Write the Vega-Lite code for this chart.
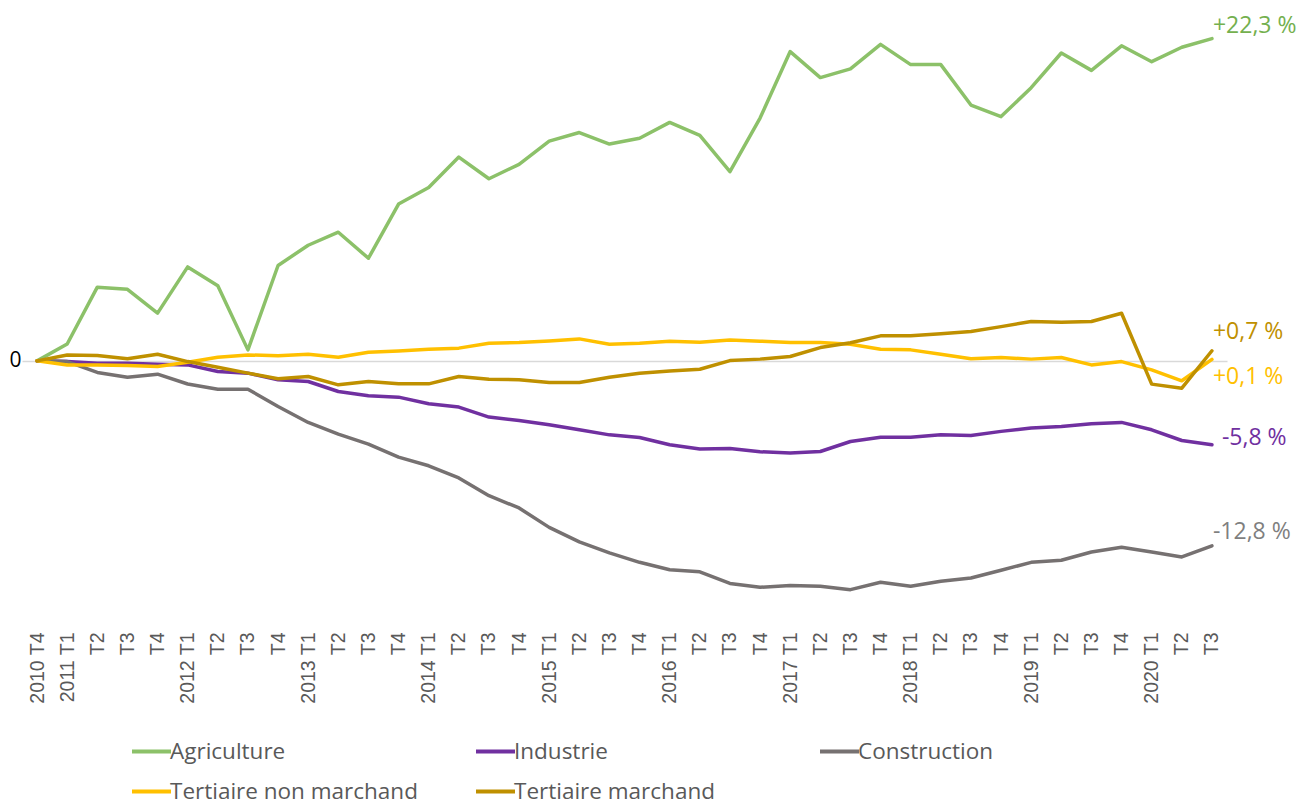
{
  "$schema": "https://vega.github.io/schema/vega-lite/v6.json",
  "width": 1205,
  "height": 607,
  "autosize": {"type": "none"},
  "padding": {"left": 22, "top": 14, "right": 73, "bottom": 181},
  "background": "white",
  "config": {"view": {"stroke": null}},
  "datasets": {
    "labels": [
      {"q": "2020 T3", "s": "Agriculture", "v": 22.3, "label": "+22,3 %"},
      {"q": "2020 T3", "s": "Industrie", "v": -5.8, "label": "-5,8 %"},
      {"q": "2020 T3", "s": "Construction", "v": -12.8, "label": "-12,8 %"},
      {"q": "2020 T3", "s": "Tertiaire non marchand", "v": 0.1, "label": "+0,1 %"},
      {"q": "2020 T3", "s": "Tertiaire marchand", "v": 0.7, "label": "+0,7 %"}
    ],
    "series": [
      {"q":"2010 T4","s":"Agriculture","v":0},{"q":"2011 T1","s":"Agriculture","v":1.17},{"q":"2011 T2","s":"Agriculture","v":5.1},{"q":"2011 T3","s":"Agriculture","v":4.95},{"q":"2011 T4","s":"Agriculture","v":3.3},
      {"q":"2012 T1","s":"Agriculture","v":6.5},{"q":"2012 T2","s":"Agriculture","v":5.2},{"q":"2012 T3","s":"Agriculture","v":0.76},{"q":"2012 T4","s":"Agriculture","v":6.6},
      {"q":"2013 T1","s":"Agriculture","v":8.0},{"q":"2013 T2","s":"Agriculture","v":8.9},{"q":"2013 T3","s":"Agriculture","v":7.1},{"q":"2013 T4","s":"Agriculture","v":10.85},
      {"q":"2014 T1","s":"Agriculture","v":12.0},{"q":"2014 T2","s":"Agriculture","v":14.1},{"q":"2014 T3","s":"Agriculture","v":12.6},{"q":"2014 T4","s":"Agriculture","v":13.6},
      {"q":"2015 T1","s":"Agriculture","v":15.2},{"q":"2015 T2","s":"Agriculture","v":15.8},{"q":"2015 T3","s":"Agriculture","v":15.0},{"q":"2015 T4","s":"Agriculture","v":15.4},
      {"q":"2016 T1","s":"Agriculture","v":16.5},{"q":"2016 T2","s":"Agriculture","v":15.6},{"q":"2016 T3","s":"Agriculture","v":13.1},{"q":"2016 T4","s":"Agriculture","v":16.8},
      {"q":"2017 T1","s":"Agriculture","v":21.4},{"q":"2017 T2","s":"Agriculture","v":19.6},{"q":"2017 T3","s":"Agriculture","v":20.2},{"q":"2017 T4","s":"Agriculture","v":21.9},
      {"q":"2018 T1","s":"Agriculture","v":20.5},{"q":"2018 T2","s":"Agriculture","v":20.5},{"q":"2018 T3","s":"Agriculture","v":17.7},{"q":"2018 T4","s":"Agriculture","v":16.9},
      {"q":"2019 T1","s":"Agriculture","v":18.9},{"q":"2019 T2","s":"Agriculture","v":21.3},{"q":"2019 T3","s":"Agriculture","v":20.1},{"q":"2019 T4","s":"Agriculture","v":21.8},
      {"q":"2020 T1","s":"Agriculture","v":20.7},{"q":"2020 T2","s":"Agriculture","v":21.7},{"q":"2020 T3","s":"Agriculture","v":22.3},

      {"q":"2010 T4","s":"Industrie","v":0},{"q":"2011 T1","s":"Industrie","v":-0.05},{"q":"2011 T2","s":"Industrie","v":-0.16},{"q":"2011 T3","s":"Industrie","v":-0.16},{"q":"2011 T4","s":"Industrie","v":-0.23},
      {"q":"2012 T1","s":"Industrie","v":-0.28},{"q":"2012 T2","s":"Industrie","v":-0.74},{"q":"2012 T3","s":"Industrie","v":-0.85},{"q":"2012 T4","s":"Industrie","v":-1.31},
      {"q":"2013 T1","s":"Industrie","v":-1.43},{"q":"2013 T2","s":"Industrie","v":-2.12},{"q":"2013 T3","s":"Industrie","v":-2.42},{"q":"2013 T4","s":"Industrie","v":-2.51},
      {"q":"2014 T1","s":"Industrie","v":-2.97},{"q":"2014 T2","s":"Industrie","v":-3.2},{"q":"2014 T3","s":"Industrie","v":-3.89},{"q":"2014 T4","s":"Industrie","v":-4.12},
      {"q":"2015 T1","s":"Industrie","v":-4.42},{"q":"2015 T2","s":"Industrie","v":-4.77},{"q":"2015 T3","s":"Industrie","v":-5.12},{"q":"2015 T4","s":"Industrie","v":-5.3},
      {"q":"2016 T1","s":"Industrie","v":-5.8},{"q":"2016 T2","s":"Industrie","v":-6.1},{"q":"2016 T3","s":"Industrie","v":-6.06},{"q":"2016 T4","s":"Industrie","v":-6.29},
      {"q":"2017 T1","s":"Industrie","v":-6.38},{"q":"2017 T2","s":"Industrie","v":-6.27},{"q":"2017 T3","s":"Industrie","v":-5.58},{"q":"2017 T4","s":"Industrie","v":-5.28},
      {"q":"2018 T1","s":"Industrie","v":-5.28},{"q":"2018 T2","s":"Industrie","v":-5.12},{"q":"2018 T3","s":"Industrie","v":-5.16},{"q":"2018 T4","s":"Industrie","v":-4.88},
      {"q":"2019 T1","s":"Industrie","v":-4.65},{"q":"2019 T2","s":"Industrie","v":-4.54},{"q":"2019 T3","s":"Industrie","v":-4.35},{"q":"2019 T4","s":"Industrie","v":-4.26},
      {"q":"2020 T1","s":"Industrie","v":-4.77},{"q":"2020 T2","s":"Industrie","v":-5.51},{"q":"2020 T3","s":"Industrie","v":-5.8},

      {"q":"2010 T4","s":"Construction","v":0},{"q":"2011 T1","s":"Construction","v":-0.05},{"q":"2011 T2","s":"Construction","v":-0.8},{"q":"2011 T3","s":"Construction","v":-1.13},{"q":"2011 T4","s":"Construction","v":-0.92},
      {"q":"2012 T1","s":"Construction","v":-1.6},{"q":"2012 T2","s":"Construction","v":-1.96},{"q":"2012 T3","s":"Construction","v":-1.96},{"q":"2012 T4","s":"Construction","v":-3.16},
      {"q":"2013 T1","s":"Construction","v":-4.26},{"q":"2013 T2","s":"Construction","v":-5.07},{"q":"2013 T3","s":"Construction","v":-5.76},{"q":"2013 T4","s":"Construction","v":-6.66},
      {"q":"2014 T1","s":"Construction","v":-7.26},{"q":"2014 T2","s":"Construction","v":-8.1},{"q":"2014 T3","s":"Construction","v":-9.33},{"q":"2014 T4","s":"Construction","v":-10.18},
      {"q":"2015 T1","s":"Construction","v":-11.52},{"q":"2015 T2","s":"Construction","v":-12.53},{"q":"2015 T3","s":"Construction","v":-13.29},{"q":"2015 T4","s":"Construction","v":-13.94},
      {"q":"2016 T1","s":"Construction","v":-14.45},{"q":"2016 T2","s":"Construction","v":-14.6},{"q":"2016 T3","s":"Construction","v":-15.4},{"q":"2016 T4","s":"Construction","v":-15.67},
      {"q":"2017 T1","s":"Construction","v":-15.55},{"q":"2017 T2","s":"Construction","v":-15.6},{"q":"2017 T3","s":"Construction","v":-15.83},{"q":"2017 T4","s":"Construction","v":-15.32},
      {"q":"2018 T1","s":"Construction","v":-15.6},{"q":"2018 T2","s":"Construction","v":-15.25},{"q":"2018 T3","s":"Construction","v":-15.02},{"q":"2018 T4","s":"Construction","v":-14.49},
      {"q":"2019 T1","s":"Construction","v":-13.94},{"q":"2019 T2","s":"Construction","v":-13.8},{"q":"2019 T3","s":"Construction","v":-13.23},{"q":"2019 T4","s":"Construction","v":-12.9},
      {"q":"2020 T1","s":"Construction","v":-13.23},{"q":"2020 T2","s":"Construction","v":-13.57},{"q":"2020 T3","s":"Construction","v":-12.8},

      {"q":"2010 T4","s":"Tertiaire non marchand","v":0},{"q":"2011 T1","s":"Tertiaire non marchand","v":-0.28},{"q":"2011 T2","s":"Tertiaire non marchand","v":-0.28},{"q":"2011 T3","s":"Tertiaire non marchand","v":-0.32},{"q":"2011 T4","s":"Tertiaire non marchand","v":-0.39},
      {"q":"2012 T1","s":"Tertiaire non marchand","v":-0.09},{"q":"2012 T2","s":"Tertiaire non marchand","v":0.25},{"q":"2012 T3","s":"Tertiaire non marchand","v":0.41},{"q":"2012 T4","s":"Tertiaire non marchand","v":0.35},
      {"q":"2013 T1","s":"Tertiaire non marchand","v":0.46},{"q":"2013 T2","s":"Tertiaire non marchand","v":0.25},{"q":"2013 T3","s":"Tertiaire non marchand","v":0.6},{"q":"2013 T4","s":"Tertiaire non marchand","v":0.69},
      {"q":"2014 T1","s":"Tertiaire non marchand","v":0.8},{"q":"2014 T2","s":"Tertiaire non marchand","v":0.88},{"q":"2014 T3","s":"Tertiaire non marchand","v":1.22},{"q":"2014 T4","s":"Tertiaire non marchand","v":1.27},
      {"q":"2015 T1","s":"Tertiaire non marchand","v":1.38},{"q":"2015 T2","s":"Tertiaire non marchand","v":1.52},{"q":"2015 T3","s":"Tertiaire non marchand","v":1.15},{"q":"2015 T4","s":"Tertiaire non marchand","v":1.22},
      {"q":"2016 T1","s":"Tertiaire non marchand","v":1.36},{"q":"2016 T2","s":"Tertiaire non marchand","v":1.29},{"q":"2016 T3","s":"Tertiaire non marchand","v":1.45},{"q":"2016 T4","s":"Tertiaire non marchand","v":1.36},
      {"q":"2017 T1","s":"Tertiaire non marchand","v":1.27},{"q":"2017 T2","s":"Tertiaire non marchand","v":1.27},{"q":"2017 T3","s":"Tertiaire non marchand","v":1.15},{"q":"2017 T4","s":"Tertiaire non marchand","v":0.81},
      {"q":"2018 T1","s":"Tertiaire non marchand","v":0.76},{"q":"2018 T2","s":"Tertiaire non marchand","v":0.46},{"q":"2018 T3","s":"Tertiaire non marchand","v":0.14},{"q":"2018 T4","s":"Tertiaire non marchand","v":0.23},
      {"q":"2019 T1","s":"Tertiaire non marchand","v":0.12},{"q":"2019 T2","s":"Tertiaire non marchand","v":0.23},{"q":"2019 T3","s":"Tertiaire non marchand","v":-0.28},{"q":"2019 T4","s":"Tertiaire non marchand","v":-0.05},
      {"q":"2020 T1","s":"Tertiaire non marchand","v":-0.62},{"q":"2020 T2","s":"Tertiaire non marchand","v":-1.38},{"q":"2020 T3","s":"Tertiaire non marchand","v":0.1},

      {"q":"2010 T4","s":"Tertiaire marchand","v":0},{"q":"2011 T1","s":"Tertiaire marchand","v":0.41},{"q":"2011 T2","s":"Tertiaire marchand","v":0.37},{"q":"2011 T3","s":"Tertiaire marchand","v":0.14},{"q":"2011 T4","s":"Tertiaire marchand","v":0.46},
      {"q":"2012 T1","s":"Tertiaire marchand","v":-0.05},{"q":"2012 T2","s":"Tertiaire marchand","v":-0.44},{"q":"2012 T3","s":"Tertiaire marchand","v":-0.85},{"q":"2012 T4","s":"Tertiaire marchand","v":-1.24},
      {"q":"2013 T1","s":"Tertiaire marchand","v":-1.08},{"q":"2013 T2","s":"Tertiaire marchand","v":-1.66},{"q":"2013 T3","s":"Tertiaire marchand","v":-1.43},{"q":"2013 T4","s":"Tertiaire marchand","v":-1.59},
      {"q":"2014 T1","s":"Tertiaire marchand","v":-1.59},{"q":"2014 T2","s":"Tertiaire marchand","v":-1.08},{"q":"2014 T3","s":"Tertiaire marchand","v":-1.27},{"q":"2014 T4","s":"Tertiaire marchand","v":-1.31},
      {"q":"2015 T1","s":"Tertiaire marchand","v":-1.5},{"q":"2015 T2","s":"Tertiaire marchand","v":-1.5},{"q":"2015 T3","s":"Tertiaire marchand","v":-1.13},{"q":"2015 T4","s":"Tertiaire marchand","v":-0.85},
      {"q":"2016 T1","s":"Tertiaire marchand","v":-0.71},{"q":"2016 T2","s":"Tertiaire marchand","v":-0.58},{"q":"2016 T3","s":"Tertiaire marchand","v":0.02},{"q":"2016 T4","s":"Tertiaire marchand","v":0.12},
      {"q":"2017 T1","s":"Tertiaire marchand","v":0.3},{"q":"2017 T2","s":"Tertiaire marchand","v":0.92},{"q":"2017 T3","s":"Tertiaire marchand","v":1.25},{"q":"2017 T4","s":"Tertiaire marchand","v":1.73},
      {"q":"2018 T1","s":"Tertiaire marchand","v":1.73},{"q":"2018 T2","s":"Tertiaire marchand","v":1.87},{"q":"2018 T3","s":"Tertiaire marchand","v":2.03},{"q":"2018 T4","s":"Tertiaire marchand","v":2.37},
      {"q":"2019 T1","s":"Tertiaire marchand","v":2.72},{"q":"2019 T2","s":"Tertiaire marchand","v":2.67},{"q":"2019 T3","s":"Tertiaire marchand","v":2.72},{"q":"2019 T4","s":"Tertiaire marchand","v":3.29},
      {"q":"2020 T1","s":"Tertiaire marchand","v":-1.61},{"q":"2020 T2","s":"Tertiaire marchand","v":-1.89},{"q":"2020 T3","s":"Tertiaire marchand","v":0.7}
    ]
  },
  "encoding": {
    "x": {
      "field": "q",
      "type": "nominal",
      "scale": {"type": "point", "padding": 0.5},
      "axis": {
        "title": null,
        "domain": false,
        "ticks": false,
        "labelAngle": -90,
        "labelPadding": 11,
        "labelFont": "Liberation Sans",
        "labelFontSize": 19.5,
        "labelColor": "#595959",
        "labelOverlap": false,
        "labelExpr": "(indexof(datum.value, 'T1') >= 0 || datum.value == '2010 T4') ? datum.value : slice(datum.value, 5)"
      }
    },
    "y": {
      "field": "v",
      "type": "quantitative",
      "scale": {"domain": [-18, 24], "nice": false, "zero": false},
      "axis": {
        "title": null,
        "values": [0],
        "grid": true,
        "gridColor": "#d9d9d9",
        "gridWidth": 1.3,
        "domain": false,
        "ticks": false,
        "labelPadding": 1,
        "labelFont": "Open Sans",
        "labelFontSize": 21,
        "labelColor": "#000000"
      }
    }
  },
  "layer": [
    {
      "data": {"name": "series"},
      "mark": {"type": "line", "strokeWidth": 3.5, "strokeJoin": "round", "strokeCap": "round"},
      "encoding": {
        "color": {
          "field": "s",
          "type": "nominal",
          "scale": {
            "domain": ["Agriculture", "Industrie", "Construction", "Tertiaire non marchand", "Tertiaire marchand"],
            "range": ["#8CC169", "#7030A0", "#767171", "#FFC000", "#BF9000"]
          },
          "legend": {
            "title": null,
            "orient": "none",
            "legendX": 108,
            "legendY": 716,
            "direction": "horizontal",
            "columns": 3,
            "gridAlign": "all",
            "columnPadding": 50,
            "rowPadding": 7,
            "padding": 0,
            "symbolType": "stroke",
            "symbolSize": 1521,
            "symbolStrokeWidth": 4,
            "labelOffset": -3,
            "labelFont": "Open Sans",
            "labelFontSize": 22.5,
            "labelColor": "#595959",
            "labelLimit": 400
          }
        }
      }
    },
    {
      "data": {"name": "labels"},
      "transform": [{"filter": "datum.s == 'Agriculture'"}],
      "mark": {"type": "text", "align": "left", "baseline": "middle", "dx": 1, "dy": -13, "font": "Open Sans", "fontSize": 23, "color": "#74B04E"},
      "encoding": {"text": {"field": "label"}}
    },
    {
      "data": {"name": "labels"},
      "transform": [{"filter": "datum.s == 'Tertiaire marchand'"}],
      "mark": {"type": "text", "align": "left", "baseline": "middle", "dx": 1, "dy": -19, "font": "Open Sans", "fontSize": 23, "color": "#BF9000"},
      "encoding": {"text": {"field": "label"}}
    },
    {
      "data": {"name": "labels"},
      "transform": [{"filter": "datum.s == 'Tertiaire non marchand'"}],
      "mark": {"type": "text", "align": "left", "baseline": "middle", "dx": 1, "dy": 18, "font": "Open Sans", "fontSize": 23, "color": "#FFC000"},
      "encoding": {"text": {"field": "label"}}
    },
    {
      "data": {"name": "labels"},
      "transform": [{"filter": "datum.s == 'Industrie'"}],
      "mark": {"type": "text", "align": "left", "baseline": "middle", "dx": 10, "dy": -7, "font": "Open Sans", "fontSize": 23, "color": "#7030A0"},
      "encoding": {"text": {"field": "label"}}
    },
    {
      "data": {"name": "labels"},
      "transform": [{"filter": "datum.s == 'Construction'"}],
      "mark": {"type": "text", "align": "left", "baseline": "middle", "dx": 1, "dy": -14, "font": "Open Sans", "fontSize": 23, "color": "#7F7F7F"},
      "encoding": {"text": {"field": "label"}}
    }
  ]
}
